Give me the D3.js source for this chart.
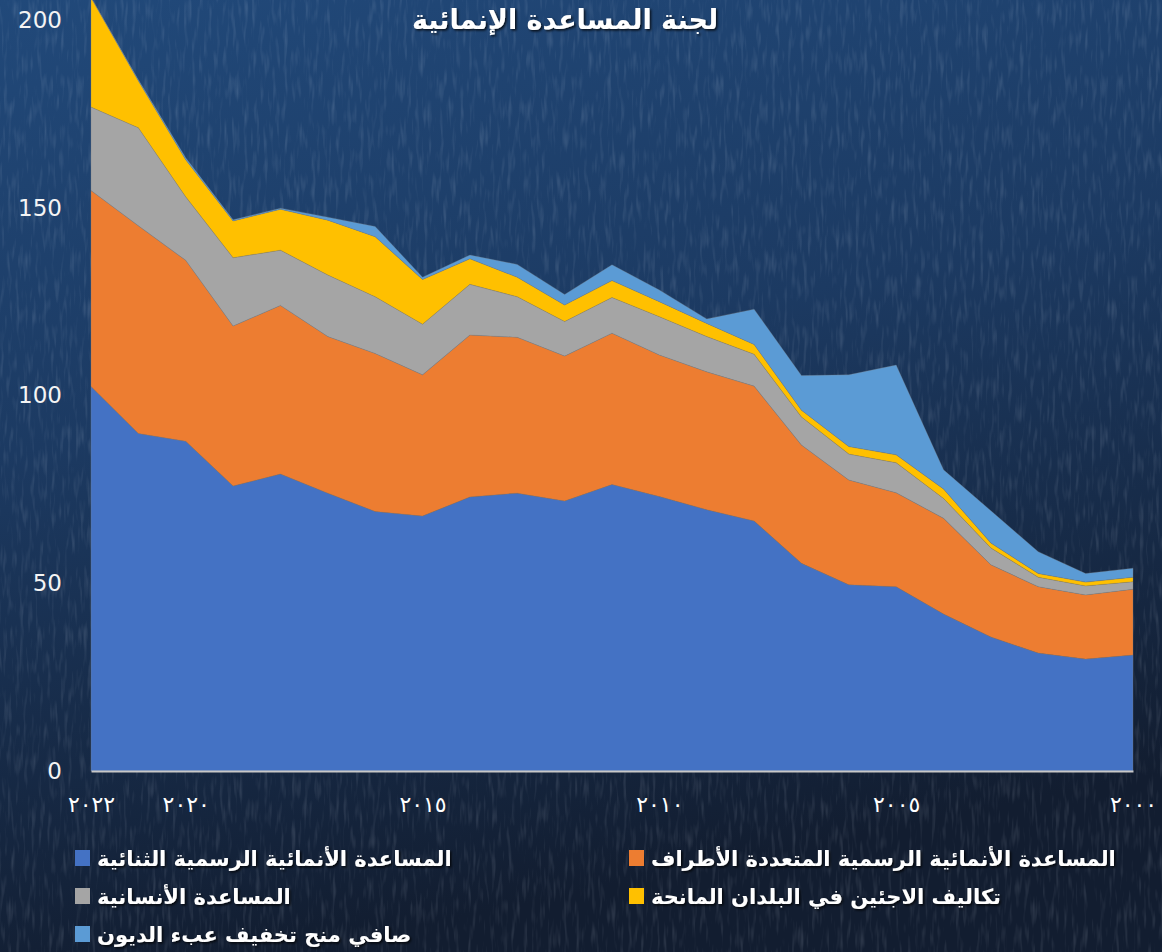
<!DOCTYPE html>
<html>
<head>
<meta charset="utf-8">
<script src="https://cdn.jsdelivr.net/npm/d3@7"></script>
<style>
  html, body { margin: 0; padding: 0; background: #15243b; }
  svg { display: block; }
</style>
</head>
<body>
<script>
        var w = 1162;
        var h = 952;

        var years = [2022, 2021, 2020, 2019, 2018, 2017, 2016, 2015, 2014, 2013, 2012, 2011,
                     2010, 2009, 2008, 2007, 2006, 2005, 2004, 2003, 2002, 2001, 2000];

        var bilateral    = [102.4, 89.9, 87.8, 75.9, 79.1, 74.0, 69.1, 67.9, 73.0, 74.0, 71.9, 76.3,
                            73.1, 69.6, 66.6, 55.3, 49.6, 49.1, 41.8, 35.7, 31.4, 29.8, 30.9];
        var multilateral = [52.2, 55.3, 48.2, 42.6, 44.9, 41.7, 42.1, 37.6, 43.1, 41.5, 38.6, 40.3,
                            37.7, 36.7, 35.9, 31.5, 27.9, 25.0, 25.5, 19.2, 17.7, 17.1, 17.5];
        var humanitarian = [22.2, 26.1, 16.9, 18.2, 14.7, 16.4, 15.1, 13.5, 13.5, 10.8, 9.2, 9.5,
                            10.2, 9.4, 8.5, 7.5, 6.9, 8.0, 5.3, 4.5, 2.5, 2.4, 2.0];
        var refugees     = [29.2, 12.5, 9.9, 9.8, 10.9, 14.6, 16.0, 11.9, 6.8, 5.2, 4.4, 4.5,
                            4.0, 3.5, 2.6, 1.8, 2.0, 2.1, 2.5, 1.3, 1.0, 1.0, 1.2];
        var debtRelief   = [0.0, 0.3, 0.5, 0.3, 0.3, 0.8, 2.7, 0.6, 1.0, 3.4, 2.8, 4.2,
                            3.1, 1.2, 9.4, 9.2, 19.1, 23.9, 5.1, 8.6, 5.8, 2.3, 2.4];

        var seriesNames = ["المساعدة الأنمائية الرسمية الثنائية",
                           "المساعدة الأنمائية الرسمية المتعددة الأطراف",
                           "المساعدة الأنسانية",
                           "تكاليف الاجئين في البلدان المانحة",
                           "صافي منح تخفيف عبء الديون"];
        var colors = ["#4472c4", "#ed7d31", "#a5a5a5", "#ffc000", "#5b9bd5"];

        var yTicks = [0, 50, 100, 150, 200];
        var xTicks = [2022, 2020, 2015, 2010, 2005, 2000];
        var xTickLabels = ["٢٠٢٢", "٢٠٢٠", "٢٠١٥", "٢٠١٠", "٢٠٠٥", "٢٠٠٠"];
        var title = "لجنة المساعدة الإنمائية";

        var keys = ["bilateral", "multilateral", "humanitarian", "refugees", "debtRelief"];
        var table = years.map(function(y, i) {
            return { year: y, bilateral: bilateral[i], multilateral: multilateral[i],
                     humanitarian: humanitarian[i], refugees: refugees[i], debtRelief: debtRelief[i] };
        });
        var stacked = d3.stack().keys(keys)(table);

        var xScale = d3.scaleLinear()
                       .domain([2022, 2000])
                       .range([91, 1133]);

        var yScale = d3.scaleLinear()
                       .domain([0, 200])
                       .range([771, 20]);

        var svg = d3.select("body")
                    .append("svg")
                    .attr("width", w)
                    .attr("height", h);

        var defs = svg.append("defs");

        // background: dark blue, lighter at the top, with a little grain
        var bg = defs.append("linearGradient")
                     .attr("id", "bg")
                     .attr("x1", 0).attr("y1", 0).attr("x2", 0.25).attr("y2", 1);
        bg.append("stop").attr("offset", "0%").attr("stop-color", "#21497a");
        bg.append("stop").attr("offset", "45%").attr("stop-color", "#1c3a62");
        bg.append("stop").attr("offset", "100%").attr("stop-color", "#121d30");

        var grain = defs.append("filter").attr("id", "grain")
                        .attr("x", 0).attr("y", 0).attr("width", 1).attr("height", 1);
        grain.append("feTurbulence")
             .attr("type", "fractalNoise")
             .attr("baseFrequency", "0.25 0.04")
             .attr("numOctaves", 2)
             .attr("seed", 7);
        grain.append("feColorMatrix")
             .attr("type", "matrix")
             .attr("values", "0 0 0 0 0.85  0 0 0 0 0.9  0 0 0 0 1  0 0 0 -2.4 1.2");

        var shadow = defs.append("filter").attr("id", "shadow")
                         .attr("x", "-5%").attr("y", "-30%").attr("width", "110%").attr("height", "160%");
        shadow.append("feDropShadow")
              .attr("dx", 1.5).attr("dy", 1.5).attr("stdDeviation", 1)
              .attr("flood-color", "#000").attr("flood-opacity", 0.8);

        svg.append("rect")
           .attr("width", w).attr("height", h)
           .attr("fill", "url(#bg)");
        svg.append("rect")
           .attr("width", w).attr("height", h)
           .attr("filter", "url(#grain)")
           .attr("opacity", 0.12);

        // stacked areas
        var area = d3.area()
                     .x(function(d) { return xScale(d.data.year); })
                     .y0(function(d) { return yScale(d[0]); })
                     .y1(function(d) { return yScale(d[1]); });

        svg.append("g")
           .selectAll("path")
           .data(stacked)
           .enter()
           .append("path")
           .attr("d", area)
           .attr("fill", function(d, i) { return colors[i]; })
           .attr("stroke", "#7f7f7f")
           .attr("stroke-opacity", 0.5)
           .attr("stroke-width", 0.6);

        // x axis
        var xAxis = d3.axisBottom()
                      .scale(xScale)
                      .tickValues(xTicks)
                      .tickSize(0)
                      .tickPadding(25)
                      .tickFormat(function(d, i) { return xTickLabels[i]; });

        var gx = svg.append("g")
                    .attr("transform", "translate(0,771)")
                    .call(xAxis);
        gx.select(".domain")
          .attr("stroke", "#c8c8c8")
          .attr("stroke-width", 2);
        gx.selectAll("text")
          .attr("font-family", "DejaVu Sans")
          .attr("font-size", "22px")
          .attr("letter-spacing", "3px")
          .attr("fill", "#ffffff");

        // y axis
        var yAxis = d3.axisLeft()
                      .scale(yScale)
                      .tickValues(yTicks)
                      .tickSize(0)
                      .tickPadding(0);

        var gy = svg.append("g")
                    .attr("transform", "translate(62,0)")
                    .call(yAxis);
        gy.select(".domain").remove();
        gy.selectAll("text")
          .attr("font-family", "DejaVu Sans")
          .attr("font-size", "23px")
          .attr("fill", "#f4f4f4");

        // title at the very top
        svg.append("text")
           .attr("x", 565)
           .attr("y", 29)
           .attr("text-anchor", "middle")
           .attr("font-family", "DejaVu Sans")
           .attr("font-weight", "bold")
           .attr("font-size", "27px")
           .attr("fill", "#ffffff")
           .attr("filter", "url(#shadow)")
           .text(title);

        // legend, two columns
        var legend = svg.append("g");
        seriesNames.forEach(function(name, i) {
            var col = i % 2;
            var row = Math.floor(i / 2);
            var lx = col === 0 ? 75 : 629;
            var ly = 858 + row * 38;
            legend.append("rect")
                  .attr("x", lx)
                  .attr("y", ly - 8)
                  .attr("width", 15)
                  .attr("height", 16)
                  .attr("fill", colors[i]);
            legend.append("text")
                  .attr("x", lx + 22)
                  .attr("y", ly + 8)
                  .attr("text-anchor", "start")
                  .attr("font-family", "DejaVu Sans")
                  .attr("font-weight", "bold")
                  .attr("font-size", "21px")
                  .attr("fill", "#ffffff")
                  .attr("filter", "url(#shadow)")
                  .text(name);
        });
</script>
</body>
</html>
